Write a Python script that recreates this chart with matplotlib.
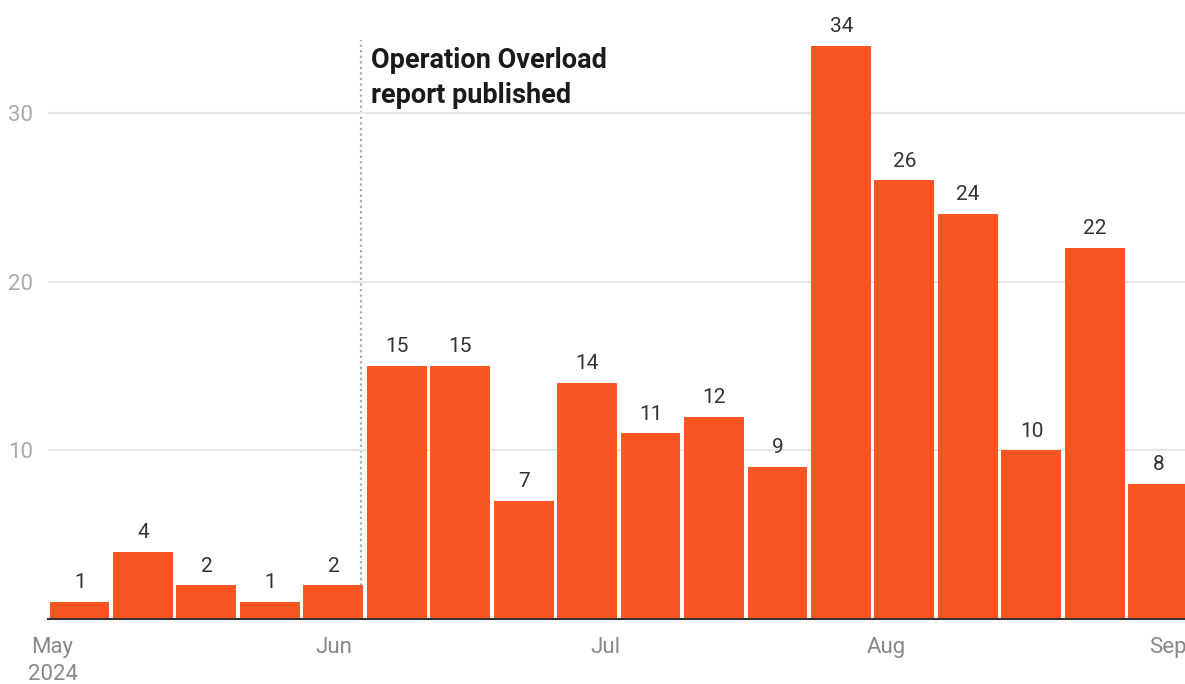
import matplotlib.pyplot as plt
import pandas as pd

plt.rcParams['font.family'] = ['Roboto', 'DejaVu Sans']

week_start = pd.date_range('2024-05-01', periods=18, freq='7D')
counts = [1, 4, 2, 1, 2, 15, 15, 7, 14, 11, 12, 9, 34, 26, 24, 10, 22, 8]
month_ticks = pd.to_datetime(['2024-05-01', '2024-06-01', '2024-07-01',
                              '2024-08-01', '2024-09-01'])
month_labels = ['May\n2024', 'Jun', 'Jul', 'Aug', 'Sep']
report_date = pd.Timestamp('2024-06-04')
report_text = 'Operation Overload\nreport published'

bar_color = '#fa5623'

fig = plt.figure(figsize=(11.85, 6.84), dpi=100)
ax = fig.add_axes([48 / 1185, 1 - 619 / 684, 1 - 48 / 1185, 619 / 684])

ax.bar(week_start - pd.Timedelta(hours=8), counts, width=6.6, align='edge',
       color=bar_color, zorder=2)

for d, v in zip(week_start, counts):
    ax.annotate(str(v), (d + pd.Timedelta(days=3.0), v), xytext=(0, 7),
                textcoords='offset points', ha='center', va='bottom',
                fontsize=15, color='#333333')

ax.axvline(report_date, ymin=0, ymax=34.3 / 36.7, color='#aaaaaa',
           ls=(0, (1, 1.5)), lw=1.6, zorder=1)
ax.text(report_date + pd.Timedelta(days=1.1), 33.9, report_text,
        fontsize=19.5, fontweight='bold', color='#1a1a1a', va='top', ha='left',
        linespacing=1.35)

ax.set_ylim(0, 36.7)
ax.set_xlim(pd.Timestamp('2024-04-30 12:00'), pd.Timestamp('2024-09-02 22:00'))
ax.set_yticks([10, 20, 30])
ax.grid(axis='y', color='#e6e6e6', lw=1.5, zorder=0)
ax.set_xticks(month_ticks)
ax.set_xticklabels(month_labels, ha='center', va='top', linespacing=1.4)
ax.tick_params(axis='x', length=0, pad=13, labelsize=16, labelcolor='#888888')
ax.tick_params(axis='y', length=0, pad=11, labelsize=16, labelcolor='#aaaaaa')

for s in ['top', 'right', 'left']:
    ax.spines[s].set_visible(False)
ax.spines['bottom'].set_color('#333333')
ax.spines['bottom'].set_linewidth(1.5)
ax.spines['bottom'].set_zorder(3)

fig.savefig('out.png', dpi=100)
